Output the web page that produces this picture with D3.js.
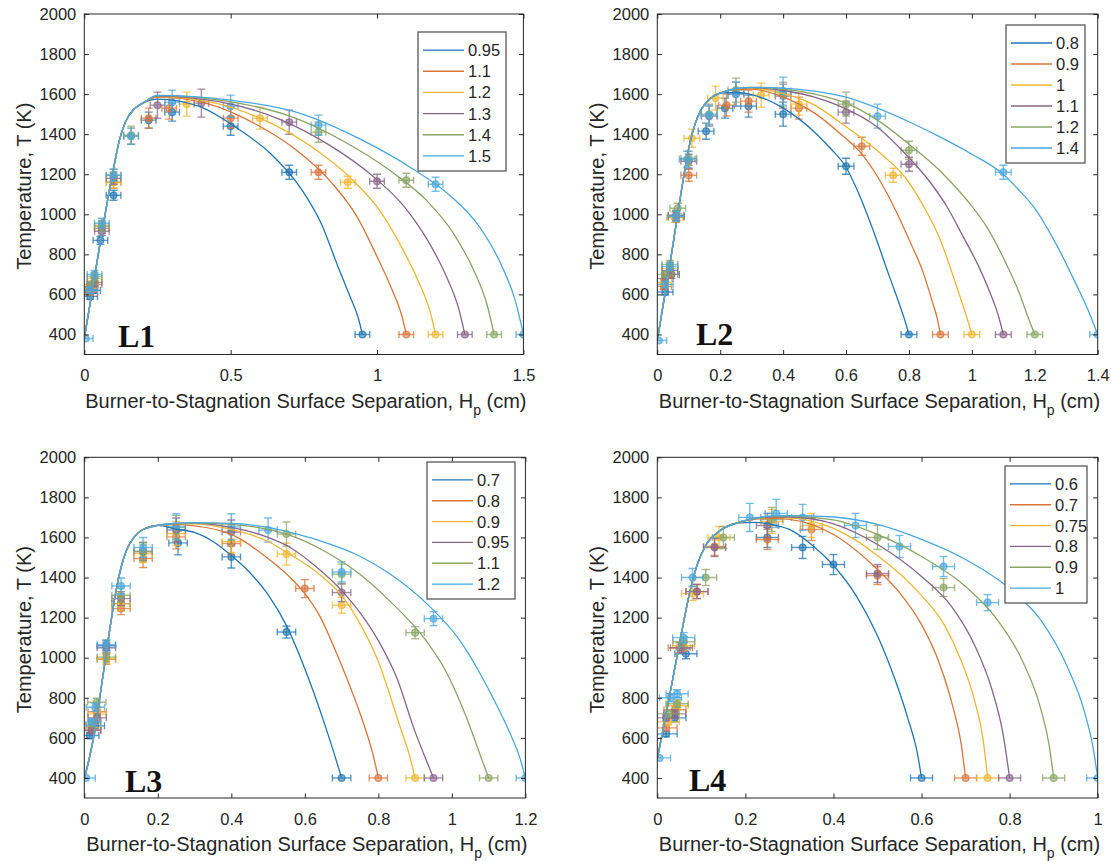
<!DOCTYPE html>
<html>
<head>
<meta charset="utf-8">
<script src="https://cdn.jsdelivr.net/npm/d3@7"></script>
<style>
  body { margin: 0; background: #fff; }
  svg { display: block; font-family: "Liberation Sans", Arial, sans-serif; }
</style>
</head>
<body>
<div class="main"></div>
<script>
// Series colours (same order in every panel)
const colors = ["#2176b3", "#d9763c", "#efb632", "#88668a", "#8ba566", "#4ba7de"];

const yTicks = [400, 600, 800, 1000, 1200, 1400, 1600, 1800, 2000];
const yDomain = [300, 2000];
const xErr = 0.025;

// ---- L1 ----
const labelsL1 = ["0.95", "1.1", "1.2", "1.3", "1.4", "1.5"];
const xTicksL1 = [0, 0.5, 1, 1.5];
const riseL1 = [[0,380],[0.05,820],[0.1,1230],[0.12,1370],[0.14,1460],[0.17,1525],[0.2,1555]];
const tailsL1 = [
  [[0.25,1575],[0.39,1540],[0.53,1422],[0.635,1305],[0.74,1129],[0.81,952],[0.866,741],[0.908,588],[0.936,482],[0.95,400]],
  [[0.25,1585],[0.42,1553],[0.59,1447],[0.7175,1328],[0.845,1157],[0.93,992],[0.998,795],[1.049,631],[1.083,502],[1.1,400]],
  [[0.25,1588],[0.44,1558],[0.63,1460],[0.7725,1341],[0.915,1174],[1.01,1017],[1.086,830],[1.143,660],[1.181,515],[1.2,400]],
  [[0.25,1590],[0.46,1562],[0.67,1473],[0.8275,1354],[0.985,1191],[1.09,1043],[1.174,867],[1.237,689],[1.279,529],[1.3,400]],
  [[0.25,1592],[0.48,1566],[0.71,1486],[0.8825,1367],[1.055,1207],[1.17,1068],[1.262,902],[1.331,718],[1.377,542],[1.4,400]],
  [[0.25,1594],[0.5,1570],[0.75,1498],[0.9375,1379],[1.125,1224],[1.25,1093],[1.35,937],[1.425,746],[1.475,555],[1.5,400]]
];
// [x, T, dT]
const pointsL1 = [
  [[0.02,590,15],[0.03,620,15],[0.055,870,20],[0.1,1095,25],[0.22,1470,40],[0.3,1510,45],[0.5,1440,45],[0.7,1210,35],[0.95,400,4]],
  [[0.02,610,15],[0.035,650,15],[0.06,930,25],[0.1,1160,30],[0.22,1480,50],[0.29,1530,55],[0.5,1480,50],[0.8,1210,35],[1.1,400,4]],
  [[0.02,630,15],[0.035,680,20],[0.06,945,25],[0.1,1160,30],[0.16,1390,40],[0.35,1550,60],[0.6,1480,55],[0.9,1160,30],[1.2,400,4]],
  [[0.02,640,15],[0.035,660,20],[0.06,915,20],[0.1,1180,30],[0.25,1545,65],[0.4,1555,70],[0.7,1460,60],[1.0,1165,35],[1.3,400,4]],
  [[0.02,650,15],[0.035,690,20],[0.06,940,25],[0.1,1195,30],[0.16,1395,45],[0.8,1410,50],[1.1,1170,35],[1.4,400,4]],
  [[0.005,380,5],[0.02,620,15],[0.035,700,20],[0.06,955,25],[0.1,1195,30],[0.16,1390,40],[0.3,1560,60],[0.5,1540,55],[0.8,1445,50],[1.2,1150,35],[1.5,400,4]]
];

// ---- L2 ----
const labelsL2 = ["0.8", "0.9", "1", "1.1", "1.2", "1.4"];
const xTicksL2 = [0, 0.2, 0.4, 0.6, 0.8, 1, 1.2, 1.4];
const riseL2 = [[0,370],[0.04,750],[0.08,1150],[0.1,1330],[0.12,1450],[0.14,1525],[0.17,1580],[0.2,1605]];
const tailsL2 = [
  [[0.25,1608],[0.3,1598],[0.4,1530],[0.5,1410],[0.55,1330],[0.6,1235],[0.64,1105],[0.685,925],[0.74,680],[0.77,550],[0.79,455],[0.8,400]],
  [[0.25,1622],[0.3,1625],[0.4,1585],[0.5,1505],[0.58,1405],[0.645,1310],[0.705,1175],[0.74,1075],[0.8,875],[0.845,710],[0.875,560],[0.89,480],[0.9,400]],
  [[0.25,1625],[0.3,1630],[0.4,1602],[0.5,1545],[0.58,1460],[0.65,1380],[0.72,1290],[0.79,1180],[0.85,1030],[0.9,870],[0.93,740],[0.96,600],[0.985,480],[1.0,400]],
  [[0.25,1626],[0.3,1632],[0.4,1618],[0.5,1585],[0.58,1540],[0.7,1435],[0.79,1300],[0.865,1165],[0.92,1040],[0.97,895],[1.02,745],[1.06,600],[1.085,490],[1.1,400]],
  [[0.25,1627],[0.3,1633],[0.4,1625],[0.5,1600],[0.6,1555],[0.7,1470],[0.8,1350],[0.9,1215],[0.96,1115],[1.0,1040],[1.05,930],[1.107,760],[1.15,610],[1.18,480],[1.2,400]],
  [[0.25,1628],[0.3,1634],[0.4,1630],[0.5,1615],[0.6,1585],[0.7,1530],[0.8,1462],[0.9,1385],[1.0,1300],[1.09,1212],[1.15,1120],[1.2,1030],[1.27,845],[1.33,655],[1.37,520],[1.4,400]]
];
const pointsL2 = [
  [[0.025,612,15],[0.045,700,20],[0.06,990,25],[0.155,1415,40],[0.215,1530,50],[0.29,1540,55],[0.4,1500,60],[0.6,1240,40],[0.8,400,4]],
  [[0.02,640,15],[0.04,700,20],[0.06,985,25],[0.1,1195,30],[0.22,1545,55],[0.29,1565,55],[0.45,1530,55],[0.65,1340,45],[0.9,400,4]],
  [[0.02,660,15],[0.04,730,20],[0.055,985,25],[0.11,1380,45],[0.185,1580,60],[0.33,1595,60],[0.45,1550,55],[0.75,1195,35],[1.0,400,4]],
  [[0.025,680,15],[0.04,720,20],[0.06,995,25],[0.1,1265,35],[0.165,1490,50],[0.25,1600,60],[0.4,1590,60],[0.6,1510,55],[0.8,1250,35],[1.1,400,4]],
  [[0.025,700,15],[0.04,750,20],[0.065,1030,25],[0.1,1280,35],[0.165,1500,50],[0.25,1620,60],[0.4,1600,60],[0.6,1550,60],[0.8,1320,45],[1.2,400,4]],
  [[0.005,370,5],[0.025,650,15],[0.04,740,20],[0.06,990,25],[0.095,1275,40],[0.165,1495,50],[0.25,1600,60],[0.4,1615,70],[0.7,1490,60],[1.1,1210,35],[1.4,400,4]]
];

// ---- L3 ----
const labelsL3 = ["0.7", "0.8", "0.9", "0.95", "1.1", "1.2"];
const xTicksL3 = [0, 0.2, 0.4, 0.6, 0.8, 1, 1.2];
const riseL3 = [[0,395],[0.025,600],[0.05,900],[0.07,1150],[0.085,1320],[0.1,1450],[0.115,1537],[0.135,1600],[0.155,1635],[0.2,1660]];
const tailsL3 = [
  [[0.25,1642],[0.3,1625],[0.35,1580],[0.4,1510],[0.45,1425],[0.5,1315],[0.55,1160],[0.6,945],[0.65,690],[0.68,520],[0.7,400]],
  [[0.25,1664],[0.3,1658],[0.4,1615],[0.5,1495],[0.56,1400],[0.6,1320],[0.64,1210],[0.68,1050],[0.72,870],[0.76,670],[0.785,520],[0.8,400]],
  [[0.25,1668],[0.3,1668],[0.4,1640],[0.5,1580],[0.56,1515],[0.63,1430],[0.7,1310],[0.75,1170],[0.8,980],[0.86,650],[0.885,510],[0.9,400]],
  [[0.25,1669],[0.3,1670],[0.4,1650],[0.5,1600],[0.56,1550],[0.63,1455],[0.7,1335],[0.75,1225],[0.8,1085],[0.85,900],[0.9,630],[0.93,490],[0.95,400]],
  [[0.25,1670],[0.3,1672],[0.4,1665],[0.5,1640],[0.56,1610],[0.65,1535],[0.74,1430],[0.83,1285],[0.93,1085],[0.98,945],[1.04,700],[1.075,525],[1.1,400]],
  [[0.25,1671],[0.3,1674],[0.4,1670],[0.5,1650],[0.56,1625],[0.65,1578],[0.74,1515],[0.83,1420],[0.94,1255],[1.02,1090],[1.08,910],[1.12,770],[1.16,615],[1.185,500],[1.2,400]]
];
const pointsL3 = [
  [[0.015,612,15],[0.03,660,15],[0.06,1060,25],[0.1,1270,35],[0.255,1573,60],[0.4,1503,55],[0.55,1128,30],[0.7,400,4]],
  [[0.02,640,15],[0.035,730,20],[0.06,992,25],[0.1,1245,30],[0.16,1495,45],[0.25,1603,60],[0.4,1570,55],[0.6,1345,45],[0.8,400,4]],
  [[0.02,650,15],[0.035,720,20],[0.06,995,25],[0.1,1270,35],[0.16,1520,45],[0.25,1620,60],[0.4,1580,55],[0.55,1517,55],[0.7,1262,40],[0.9,400,4]],
  [[0.02,637,15],[0.035,700,20],[0.06,1050,25],[0.1,1295,35],[0.16,1530,45],[0.25,1637,60],[0.4,1627,60],[0.7,1325,45],[0.95,400,4]],
  [[0.02,670,15],[0.034,778,20],[0.06,1003,25],[0.1,1312,35],[0.16,1530,45],[0.25,1650,60],[0.55,1617,60],[0.7,1417,50],[0.9,1125,30],[1.1,400,4]],
  [[0.005,400,5],[0.02,680,15],[0.03,753,20],[0.06,1065,25],[0.1,1358,40],[0.16,1550,50],[0.25,1653,65],[0.4,1653,65],[0.5,1637,60],[0.7,1428,50],[0.95,1195,35],[1.2,400,4]]
];

// ---- L4 ----
const labelsL4 = ["0.6", "0.7", "0.75", "0.8", "0.9", "1"];
const xTicksL4 = [0, 0.2, 0.4, 0.6, 0.8, 1];
const riseL4 = [[0,495],[0.02,720],[0.04,950],[0.06,1180],[0.075,1340],[0.09,1460],[0.11,1560],[0.14,1630],[0.18,1672]];
const tailsL4 = [
  [[0.22,1675],[0.26,1665],[0.3,1640],[0.35,1565],[0.4,1460],[0.45,1315],[0.5,1110],[0.54,890],[0.57,690],[0.59,530],[0.6,400]],
  [[0.22,1690],[0.26,1695],[0.3,1690],[0.4,1615],[0.5,1440],[0.55,1325],[0.6,1165],[0.64,975],[0.67,765],[0.69,570],[0.7,400]],
  [[0.22,1692],[0.26,1700],[0.3,1698],[0.4,1645],[0.5,1510],[0.6,1310],[0.65,1170],[0.69,985],[0.72,790],[0.74,590],[0.75,400]],
  [[0.22,1693],[0.26,1702],[0.3,1702],[0.4,1668],[0.5,1565],[0.6,1405],[0.67,1250],[0.72,1065],[0.76,840],[0.785,620],[0.8,400]],
  [[0.22,1694],[0.26,1705],[0.3,1706],[0.4,1688],[0.5,1615],[0.6,1505],[0.7,1355],[0.77,1195],[0.83,980],[0.87,750],[0.89,560],[0.9,400]],
  [[0.22,1695],[0.26,1707],[0.3,1709],[0.4,1702],[0.5,1665],[0.6,1590],[0.7,1490],[0.8,1345],[0.87,1190],[0.93,960],[0.97,730],[0.99,545],[1.0,400]]
];
const pointsL4 = [
  [[0.02,620,15],[0.04,700,20],[0.065,1020,25],[0.25,1600,50],[0.33,1550,55],[0.4,1465,50],[0.6,400,4]],
  [[0.02,650,15],[0.04,740,20],[0.05,1050,25],[0.09,1330,35],[0.13,1555,45],[0.25,1590,50],[0.35,1640,55],[0.5,1410,45],[0.7,400,4]],
  [[0.025,680,15],[0.045,760,20],[0.06,1060,25],[0.08,1320,35],[0.14,1600,55],[0.26,1680,60],[0.35,1660,60],[0.75,400,4]],
  [[0.02,700,15],[0.04,720,20],[0.055,1050,25],[0.09,1330,35],[0.13,1550,45],[0.25,1660,60],[0.5,1420,45],[0.8,400,4]],
  [[0.025,720,15],[0.045,770,20],[0.06,1080,25],[0.11,1400,40],[0.15,1600,55],[0.26,1690,60],[0.5,1600,60],[0.65,1350,45],[0.9,400,4]],
  [[0.005,500,5],[0.03,800,20],[0.045,820,20],[0.06,1100,25],[0.08,1400,45],[0.21,1700,70],[0.27,1720,70],[0.33,1700,65],[0.45,1660,60],[0.55,1555,55],[0.65,1455,50],[0.75,1275,40],[1.0,400,4]]
];

const panels = [
  { name: "L1", labels: labelsL1, xTicks: xTicksL1, xMax: 1.5, rise: riseL1, tails: tailsL1, points: pointsL1,
    box: { left: 84.3, right: 523.4, top: 14, bottom: 354.5 },
    legend: { x: 418, y: 32, w: 88, h: 139 }, tag: { x: 118, y: 347 } },
  { name: "L2", labels: labelsL2, xTicks: xTicksL2, xMax: 1.4, rise: riseL2, tails: tailsL2, points: pointsL2,
    box: { left: 657.3, right: 1097.7, top: 14, bottom: 354.5 },
    legend: { x: 1006, y: 25, w: 79, h: 138 }, tag: { x: 696, y: 345 } },
  { name: "L3", labels: labelsL3, xTicks: xTicksL3, xMax: 1.2, rise: riseL3, tails: tailsL3, points: pointsL3,
    box: { left: 84.3, right: 525.4, top: 457.3, bottom: 798 },
    legend: { x: 427, y: 462, w: 88, h: 137 }, tag: { x: 125, y: 792 } },
  { name: "L4", labels: labelsL4, xTicks: xTicksL4, xMax: 1, rise: riseL4, tails: tailsL4, points: pointsL4,
    box: { left: 657.3, right: 1097.7, top: 457.3, bottom: 798 },
    legend: { x: 1005, y: 466, w: 82, h: 137 }, tag: { x: 689, y: 791 } }
];

const svg = d3.select("div.main").append("svg")
  .attr("width", 1111)
  .attr("height", 861);

const axisColor = "#262626";

panels.forEach(function(p) {
  const b = p.box;
  const x = d3.scaleLinear().domain([0, p.xMax]).range([b.left, b.right]);
  const y = d3.scaleLinear().domain(yDomain).range([b.bottom, b.top]);
  const g = svg.append("g");

  // clip marks to the axes box, like MATLAB does
  const clipId = "clip" + p.name;
  svg.append("clipPath").attr("id", clipId).append("rect")
    .attr("x", b.left).attr("y", b.top)
    .attr("width", b.right - b.left).attr("height", b.bottom - b.top);
  const plot = g.append("g").attr("clip-path", "url(#" + clipId + ")");

  // error bars + markers
  p.points.forEach(function(series, i) {
    const c = colors[i];
    const s = plot.append("g").attr("stroke", c).attr("fill", "none")
      .attr("stroke-width", 1.4).attr("stroke-opacity", 0.75);
    series.forEach(function(d) {
      const px = x(d[0]), py = y(d[1]);
      const x0 = x(d[0] - xErr), x1 = x(d[0] + xErr);
      const y0 = y(d[1] - d[2]), y1 = y(d[1] + d[2]);
      s.append("line").attr("x1", x0).attr("x2", x1).attr("y1", py).attr("y2", py);
      s.append("line").attr("x1", x0).attr("x2", x0).attr("y1", py - 3.5).attr("y2", py + 3.5);
      s.append("line").attr("x1", x1).attr("x2", x1).attr("y1", py - 3.5).attr("y2", py + 3.5);
      if (y0 - y1 > 3) {
        s.append("line").attr("x1", px).attr("x2", px).attr("y1", y0).attr("y2", y1);
        s.append("line").attr("x1", px - 4).attr("x2", px + 4).attr("y1", y0).attr("y2", y0);
        s.append("line").attr("x1", px - 4).attr("x2", px + 4).attr("y1", y1).attr("y2", y1);
      }
      s.append("circle").attr("cx", px).attr("cy", py).attr("r", 3.3)
        .attr("fill", c).attr("fill-opacity", 0.55);
    });
  });

  // fitted curves
  const line = d3.line()
    .x(function(d) { return x(d[0]); })
    .y(function(d) { return y(d[1]); })
    .curve(d3.curveMonotoneX);
  p.tails.forEach(function(t, i) {
    plot.append("path")
      .datum(p.rise.concat(t))
      .attr("d", line)
      .attr("fill", "none")
      .attr("stroke", colors[i])
      .attr("stroke-width", 1.3);
  });

  // axes, ticks inside on all four sides
  const fmt = d3.format("~g");
  const ax = [
    g.append("g").attr("transform", "translate(0," + b.bottom + ")")
      .call(d3.axisBottom(x).tickValues(p.xTicks).tickFormat(fmt).tickSizeInner(-4.5).tickSizeOuter(0).tickPadding(15)),
    g.append("g").attr("transform", "translate(0," + b.top + ")")
      .call(d3.axisTop(x).tickValues(p.xTicks).tickFormat("").tickSizeInner(-4.5).tickSizeOuter(0)),
    g.append("g").attr("transform", "translate(" + b.left + ",0)")
      .call(d3.axisLeft(y).tickValues(yTicks).tickFormat(d3.format("d")).tickSizeInner(-4.5).tickSizeOuter(0).tickPadding(8)),
    g.append("g").attr("transform", "translate(" + b.right + ",0)")
      .call(d3.axisRight(y).tickValues(yTicks).tickFormat("").tickSizeInner(-4.5).tickSizeOuter(0))
  ];
  ax.forEach(function(a) {
    a.select(".domain").remove();
    a.selectAll("line").attr("stroke", axisColor);
    a.selectAll("text").attr("fill", axisColor).style("font-size", "16.5px")
      .style("font-family", "'Liberation Sans', Arial, sans-serif");
  });
  g.append("rect")
    .attr("x", b.left).attr("y", b.top)
    .attr("width", b.right - b.left).attr("height", b.bottom - b.top)
    .attr("fill", "none").attr("stroke", axisColor).attr("stroke-width", 1);

  // axis labels
  const cy = (b.top + b.bottom) / 2;
  g.append("text")
    .attr("transform", "translate(" + (b.left - 53) + "," + (cy + 2) + ") rotate(-90)")
    .attr("text-anchor", "middle")
    .attr("fill", axisColor)
    .style("font-size", "20px")
    .text("Temperature, T (K)");

  const xl = g.append("text")
    .attr("x", (b.left + b.right) / 2 + 2)
    .attr("y", b.bottom + 53)
    .attr("text-anchor", "middle")
    .attr("fill", axisColor)
    .style("font-size", "20px");
  xl.append("tspan").text("Burner-to-Stagnation Surface Separation, H");
  xl.append("tspan").attr("dy", 7).style("font-size", "14px").text("p");
  xl.append("tspan").attr("dy", -7).text(" (cm)");

  // panel tag
  g.append("text")
    .attr("x", p.tag.x).attr("y", p.tag.y)
    .attr("fill", "#111")
    .style("font-family", "'Liberation Serif', 'Times New Roman', serif")
    .style("font-weight", "bold")
    .style("font-size", "32px")
    .text(p.name);

  // legend
  const L = p.legend;
  const lg = g.append("g");
  lg.append("rect").attr("x", L.x).attr("y", L.y).attr("width", L.w).attr("height", L.h)
    .attr("fill", "#fff").attr("stroke", "#595959").attr("stroke-width", 1.3);
  const rowH = (L.h - 12) / p.labels.length;
  p.labels.forEach(function(lab, i) {
    const ry = L.y + 6 + rowH * (i + 0.5) + 1.5;
    lg.append("line").attr("x1", L.x + 5).attr("x2", L.x + 46).attr("y1", ry).attr("y2", ry)
      .attr("stroke", colors[i]).attr("stroke-width", 1.3);
    lg.append("text").attr("x", L.x + 50).attr("y", ry).attr("dy", "0.36em")
      .attr("fill", axisColor).style("font-size", "16.5px").text(lab);
  });
});
</script>
</body>
</html>
